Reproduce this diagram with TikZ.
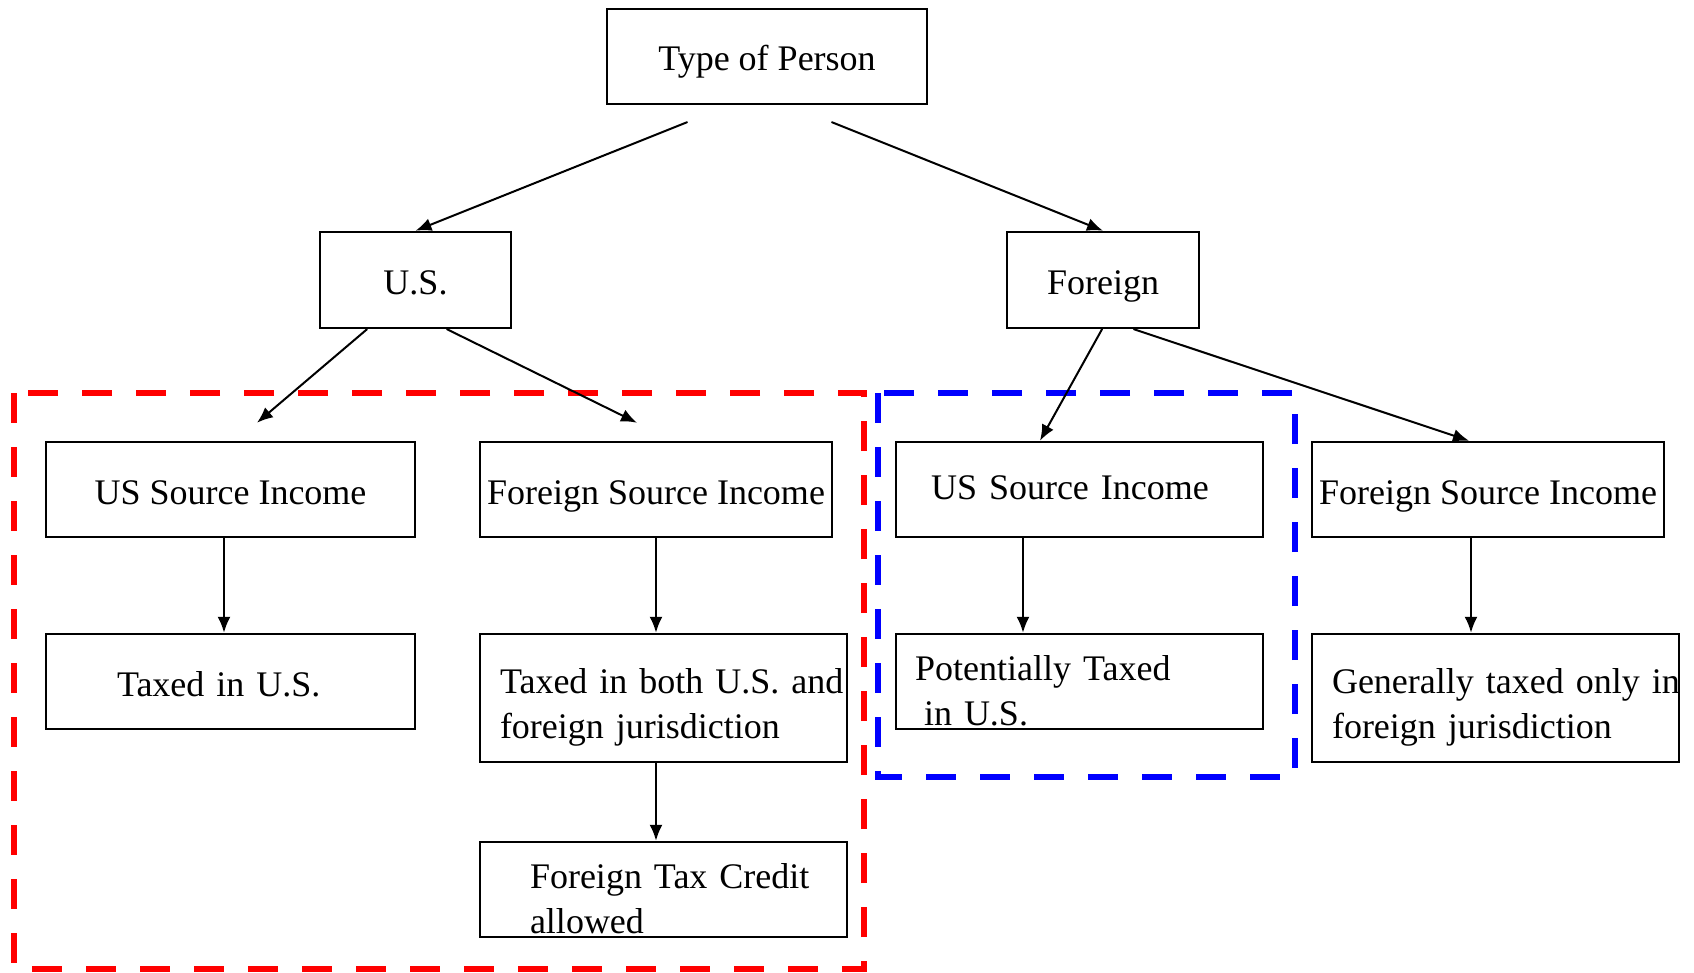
\documentclass[tikz,border=0pt]{standalone}
\usepackage{fontspec}
\setmainfont{Liberation Serif}
\usetikzlibrary{arrows.meta,calc}

\newcommand{\topgap}{\rule{0pt}{44pt}}
\tikzset{
  box/.style={draw, line width=2.5pt, inner sep=0pt, align=center,
    minimum height=95pt, font=\fontsize{36}{45}\selectfont},
  lbox/.style={box, align=left, inner xsep=#1},
  one/.style={text height=29pt, text depth=0pt},
  flow/.style={-{Latex[length=16pt,width=13pt]}, line width=2pt},
  zone/.style={draw=#1, line width=6pt, line cap=butt, dash pattern=on 30pt off 24pt}
}

\begin{document}
\begin{tikzpicture}[x=1pt, y=-1pt, line cap=round]
\useasboundingbox (0,0) rectangle (1694,973);
% dashed groups
\draw[zone=red] (14,393) rectangle (864,969);
\draw[zone=blue] (878,393) rectangle (1295,777);
% boxes
\node[box, one, minimum width=320pt] (tp) at (767,56.5) {Type of Person};
\node[box, one, minimum width=191pt, minimum height=96pt] (us) at (415.5,280) {U.S.};
\node[box, one, minimum width=192pt, minimum height=96pt] (fo) at (1103,280) {Foreign};
\node[box, one, minimum width=369pt] (usl) at (230.5,489.5) {US Source Income};
\node[box, one, minimum width=352pt] (fsl) at (656,489.5) {Foreign Source Income};
\node[lbox=35pt, text width=297pt, text height=19pt, text depth=0pt] (usr) at (1079.5,489.5) {US Source Income};
\node[box, one, minimum width=352pt] (fsr) at (1488,489.5) {Foreign Source Income};
\node[lbox=71pt, one, text width=227pt] (txus) at (230.5,681.5) {Taxed in U.S.};
\node[lbox=20pt, text width=327pt, minimum height=128pt] (both) at (663.5,698)
  {\topgap\mbox{Taxed in both U.S. and}\\foreign jurisdiction};
\node[lbox=19pt, text width=329pt] (pot) at (1079.5,681.5)
  {\topgap Potentially Taxed\\\hspace*{0.25em}in U.S.};
\node[lbox=20pt, text width=327pt, minimum height=128pt] (gen) at (1495.5,698)
  {\topgap\mbox{Generally taxed only in}\\foreign jurisdiction};
\node[lbox=50pt, text width=267pt] (ftc) at (663.5,889.5)
  {\topgap\mbox{Foreign Tax Credit}\\allowed};
% arrows
\draw[flow] ([shift={(-80,17)}]tp.south) -- (us.north);
\draw[flow] ([shift={(65,17)}]tp.south) -- (fo.north);
\draw[flow] ([xshift=-48.5pt]us.south) -- ([shift={(26.5,-18)}]usl.north);
\draw[flow] ([xshift=31.5pt]us.south) -- ([shift={(-19,-18)}]fsl.north);
\draw[flow] ([xshift=-1pt]fo.south) -- ([xshift=-39.5pt]usr.north);
\draw[flow] ([xshift=31pt]fo.south) -- ([xshift=-19pt]fsr.north);
\draw[flow] ([xshift=-6.5pt]usl.south) -- ([xshift=-6.5pt]txus.north);
\draw[flow] (fsl.south) -- ([xshift=-7.5pt]both.north);
\draw[flow] ([xshift=-7.5pt]both.south) -- ([xshift=-7.5pt]ftc.north);
\draw[flow] ([xshift=-56.5pt]usr.south) -- ([xshift=-56.5pt]pot.north);
\draw[flow] ([xshift=-17pt]fsr.south) -- ([xshift=-24.5pt]gen.north);
\end{tikzpicture}
\end{document}
